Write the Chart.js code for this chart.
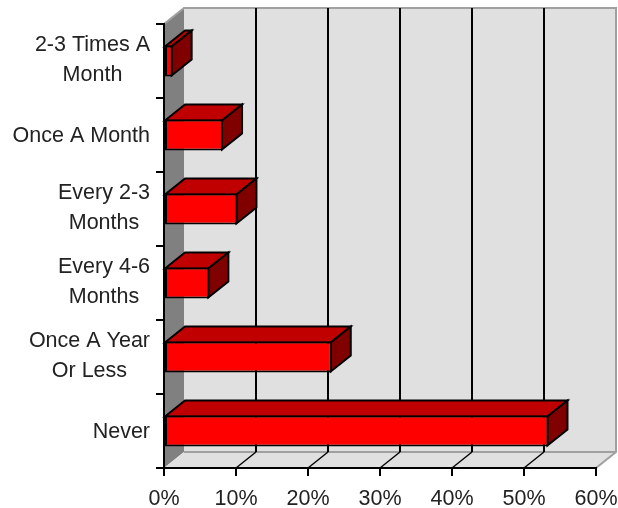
<!DOCTYPE html>
<html>
<head>
<meta charset="utf-8">
<style>
  html, body { margin: 0; padding: 0; background: #fff; }
  #box { width: 618px; height: 508px; }
</style>
</head>
<body>
<div id="box"><canvas id="freqChart"></canvas></div>
<script src="https://cdn.jsdelivr.net/npm/chart.js@4"></script>
<script>
// Survey frequency answers, top to bottom
const categories = [
  ["2-3 Times A", "Month"],
  ["Once A Month"],
  ["Every 2-3", "Months"],
  ["Every 4-6", "Months"],
  ["Once A Year", "Or Less"],
  ["Never"]
];
const percents = [1.2, 8.2, 10.2, 6.3, 23.3, 53.4];
const xTicks = [0, 10, 20, 30, 40, 50, 60];

const LABEL_FONT = "21.5px 'Liberation Sans'";
const TEXT_COLOR = "#222";
// how far the back wall sits from the front plane
const DEPTH_X = 20;
const DEPTH_Y = 16;

function poly(ctx, pts, fill, stroke, width) {
  ctx.beginPath();
  pts.forEach((p, i) => (i ? ctx.lineTo(p[0], p[1]) : ctx.moveTo(p[0], p[1])));
  ctx.closePath();
  if (fill) {
    ctx.fillStyle = fill;
    ctx.fill();
  }
  if (stroke) {
    ctx.strokeStyle = stroke;
    ctx.lineWidth = width || 1;
    ctx.stroke();
  }
}

// Box behind the bars: side wall, back wall, floor and the grid on them
const wallPlugin = {
  id: "wall",
  beforeDraw(chart) {
    const ctx = chart.ctx;
    const a = chart.chartArea;
    const dx = DEPTH_X, dy = DEPTH_Y;
    ctx.save();
    poly(ctx, [[a.left + dx, a.top - dy], [a.right + dx, a.top - dy], [a.right + dx, a.bottom - dy], [a.left + dx, a.bottom - dy]], "#e0e0e0");
    poly(ctx, [[a.left, a.top], [a.left + dx, a.top - dy], [a.left + dx, a.bottom - dy], [a.left, a.bottom]], "#808080");
    poly(ctx, [[a.left, a.bottom], [a.left + dx, a.bottom - dy], [a.right + dx, a.bottom - dy], [a.right, a.bottom]], "#e0e0e0");

    // pale edges of the box
    ctx.strokeStyle = "#a0a0a0";
    ctx.lineWidth = 2;
    ctx.beginPath();
    ctx.moveTo(a.left, a.top);
    ctx.lineTo(a.left + dx, a.top - dy);
    ctx.lineTo(a.right + dx, a.top - dy);
    ctx.lineTo(a.right + dx, a.bottom - dy);
    ctx.lineTo(a.right, a.bottom);
    ctx.moveTo(a.right + dx, a.bottom - dy);
    ctx.lineTo(a.left + dx, a.bottom - dy);
    ctx.stroke();

    // value grid, up the back wall and across the floor
    const x = chart.scales.x;
    ctx.strokeStyle = "#000";
    ctx.lineWidth = 2;
    xTicks.slice(1, -1).forEach(v => {
      const px = x.getPixelForValue(v);
      ctx.beginPath();
      ctx.moveTo(px + dx, a.top - dy);
      ctx.lineTo(px + dx, a.bottom - dy);
      ctx.stroke();
      ctx.lineWidth = 1.5;
      ctx.beginPath();
      ctx.moveTo(px + dx, a.bottom - dy);
      ctx.lineTo(px, a.bottom);
      ctx.stroke();
      ctx.lineWidth = 2;
    });
    ctx.restore();
  },
  // top and right faces of each bar, the front face is the bar itself
  beforeDatasetsDraw(chart) {
    const ctx = chart.ctx;
    const dx = DEPTH_X, dy = DEPTH_Y;
    ctx.save();
    ctx.lineJoin = "miter";
    chart.getDatasetMeta(0).data.forEach(bar => {
      const p = bar.getProps(["x", "y", "base", "height"], true);
      const top = p.y - p.height / 2 + 1;
      const bottom = p.y + p.height / 2 - 1;
      const left = p.base;
      const right = p.x - 1;
      poly(ctx, [[left, top], [left + dx, top - dy], [right + dx, top - dy], [right, top]], "#c00000", "#000", 2);
      poly(ctx, [[right, top], [right + dx, top - dy], [right + dx, bottom - dy], [right, bottom]], "#800000", "#000", 2);
    });
    ctx.restore();
  },
  // category labels: wrapped lines centred on each other, blocks flush right
  afterDraw(chart) {
    const ctx = chart.ctx;
    const y = chart.scales.y;
    const rightEdge = 150;
    const lineGap = 30;
    ctx.save();
    ctx.font = LABEL_FONT;
    ctx.fillStyle = TEXT_COLOR;
    ctx.textAlign = "center";
    ctx.textBaseline = "middle";
    categories.forEach((lines, i) => {
      const cy = y.getPixelForValue(i);
      const w = Math.max(...lines.map(l => ctx.measureText(l).width));
      lines.forEach((l, n) => {
        const ly = cy + (n - (lines.length - 1) / 2) * lineGap + (lines.length > 1 ? -1 : 1);
        ctx.fillText(l, rightEdge - w / 2, ly);
      });
    });
    ctx.restore();
  }
};

new Chart(document.getElementById("freqChart"), {
  type: "bar",
  data: {
    labels: categories.map(c => c.join(" ")),
    datasets: [{
      data: percents,
      backgroundColor: "#ff0000",
      borderColor: "#000",
      borderWidth: 2,
      borderSkipped: false,
      barPercentage: 0.42,
      categoryPercentage: 1
    }]
  },
  options: {
    indexAxis: "y",
    responsive: true,
    maintainAspectRatio: false,
    animation: false,
    layout: { padding: { top: 24, right: 22, left: 0, bottom: 0 } },
    plugins: {
      legend: { display: false },
      title: { display: false },
      tooltip: { enabled: false }
    },
    scales: {
      x: {
        min: xTicks[0],
        max: xTicks[xTicks.length - 1],
        afterFit(scale) {
          scale.height = 40;
          scale.paddingLeft = 0;
          scale.paddingRight = 0;
        },
        afterBuildTicks(scale) { scale.ticks = xTicks.map(v => ({ value: v })); },
        grid: { drawOnChartArea: false, drawTicks: true, tickLength: 8, color: "#000", lineWidth: 2 },
        border: { display: true, color: "#000", width: 2 },
        ticks: {
          color: TEXT_COLOR,
          font: { family: "'Liberation Sans'", size: 21.5 },
          padding: 10,
          maxRotation: 0,
          autoSkip: false,
          callback: v => v + "%"
        }
      },
      y: {
        afterFit(scale) { scale.width = 164; },
        offset: true,
        grid: { offset: true, drawOnChartArea: false, drawTicks: true, tickLength: 8, color: "#000", lineWidth: 2 },
        border: { display: true, color: "#000", width: 2 },
        ticks: { display: false }
      }
    }
  },
  plugins: [wallPlugin]
});
</script>
</body>
</html>
